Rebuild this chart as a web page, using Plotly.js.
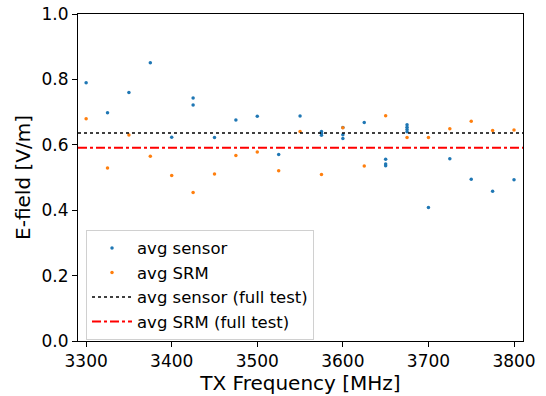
<!DOCTYPE html>
<html>
<head>
<meta charset="utf-8">
<script src="https://cdn.plot.ly/plotly-3.0.1.min.js"></script>
<style>html,body{margin:0;padding:0;background:#fff;}#chart{width:546px;height:396px;}</style>
</head>
<body>
<div id="chart"></div>
<script>
// Data
const sensorFreq = [3300, 3325, 3350, 3375, 3400, 3425, 3425, 3450, 3475, 3500, 3525, 3550, 3575, 3575, 3575, 3600, 3600, 3600, 3625, 3650, 3650, 3650, 3675, 3675, 3675, 3675, 3700, 3725, 3750, 3775, 3800];
const sensorVal  = [0.790, 0.698, 0.760, 0.851, 0.623, 0.743, 0.722, 0.622, 0.676, 0.687, 0.570, 0.688, 0.641, 0.635, 0.629, 0.653, 0.631, 0.619, 0.668, 0.556, 0.541, 0.536, 0.661, 0.654, 0.647, 0.640, 0.408, 0.557, 0.495, 0.458, 0.493];
const srmFreq = [3300, 3325, 3350, 3375, 3400, 3425, 3450, 3475, 3500, 3525, 3550, 3575, 3600, 3625, 3650, 3675, 3700, 3725, 3750, 3775, 3800];
const srmVal  = [0.680, 0.529, 0.630, 0.565, 0.506, 0.454, 0.511, 0.567, 0.578, 0.521, 0.641, 0.509, 0.652, 0.535, 0.689, 0.622, 0.622, 0.649, 0.672, 0.644, 0.645];
const sensorFull = 0.636;
const srmFull = 0.591;
const xRange = [3290.5, 3810.5];

const traces = [
  {x: sensorFreq, y: sensorVal, type: 'scatter', mode: 'markers', name: 'avg sensor',
   marker: {color: '#1f77b4', size: 3.5}},
  {x: srmFreq, y: srmVal, type: 'scatter', mode: 'markers', name: 'avg SRM',
   marker: {color: '#ff7f0e', size: 3.5}},
  {x: xRange, y: [sensorFull, sensorFull], type: 'scatter', mode: 'lines', name: 'avg sensor (full test)',
   line: {color: '#000000', width: 1.6, dash: 'dot'}},
  {x: xRange, y: [srmFull, srmFull], type: 'scatter', mode: 'lines', name: 'avg SRM (full test)',
   line: {color: '#ff0000', width: 2, dash: 'dashdot'}}
];

const layout = {
  width: 546, height: 396,
  margin: {l: 78, r: 23, t: 14, b: 55},
  paper_bgcolor: '#fff', plot_bgcolor: '#fff',
  font: {family: 'DejaVu Sans', color: '#000', size: 16},
  showlegend: true,
  legend: {x: 0.018, y: 0.34, xanchor: 'left', yanchor: 'top', itemwidth: 40,
           bgcolor: 'rgba(255,255,255,0.8)', bordercolor: '#d0d0d0', borderwidth: 1,
           font: {family: 'DejaVu Sans', size: 16.5}, tracegroupgap: 0},
  xaxis: {range: xRange, tickvals: [3300, 3400, 3500, 3600, 3700, 3800],
          ticks: 'outside', ticklen: 5, tickcolor: '#000', showgrid: false, zeroline: false,
          showline: true, linecolor: '#000', linewidth: 1, mirror: true,
          tickfont: {size: 17},
          title: {text: 'TX Frequency [MHz]', font: {size: 20}, standoff: 3}},
  yaxis: {range: [0, 1], tickvals: [0, 0.2, 0.4, 0.6, 0.8, 1.0], tickformat: '.1f',
          ticks: 'outside', ticklen: 5, tickcolor: '#000', showgrid: false, zeroline: false,
          showline: true, linecolor: '#000', linewidth: 1, mirror: true,
          tickfont: {size: 17},
          title: {text: 'E-field [V/m]', font: {size: 20}, standoff: 5}}
};

Plotly.newPlot('chart', traces, layout, {displayModeBar: false, staticPlot: true});
</script>
</body>
</html>
